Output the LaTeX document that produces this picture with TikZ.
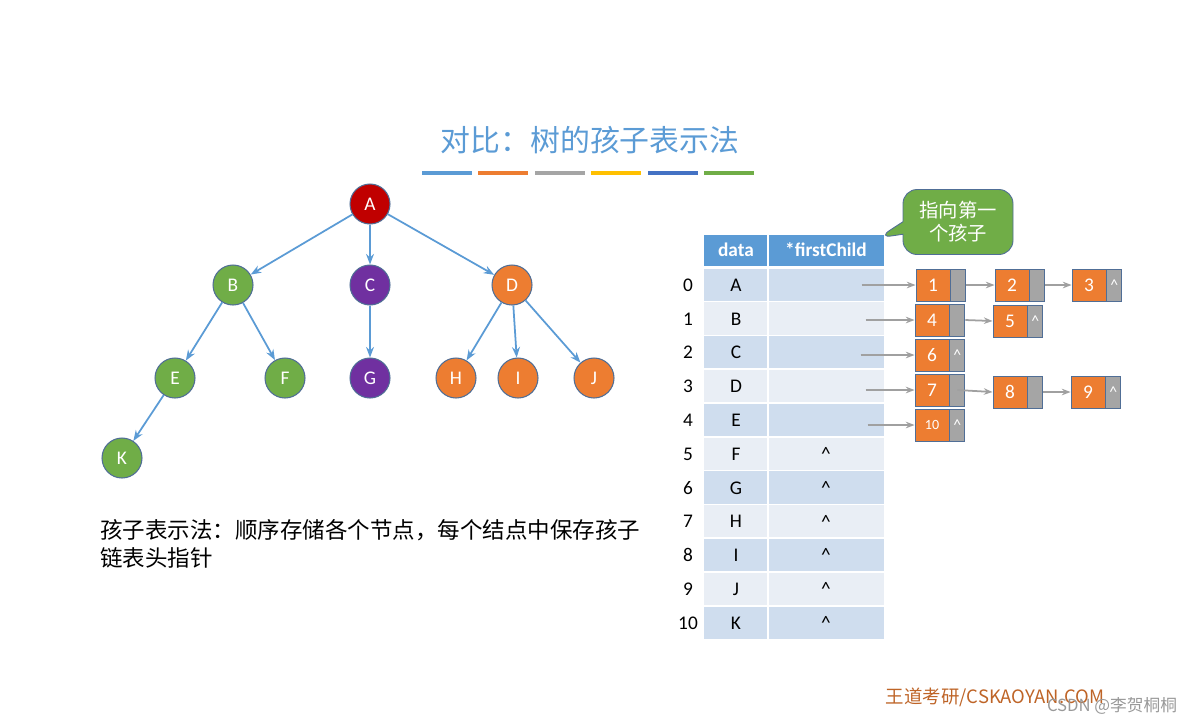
\documentclass[tikz,border=0pt]{standalone}
\usepackage{fontspec}
\setmainfont{Liberation Sans}
\newfontfamily\cjk{Noto Sans CJK SC}
\newfontfamily\cala{Carlito}
\usetikzlibrary{arrows.meta,shapes.callouts}
\definecolor{tblue}{RGB}{91,155,213}
\definecolor{tred}{RGB}{192,0,0}
\definecolor{tgreen}{RGB}{112,173,71}
\definecolor{tpurple}{RGB}{112,48,160}
\definecolor{torange}{RGB}{237,125,49}
\definecolor{tgray}{RGB}{165,165,165}
\definecolor{tyellow}{RGB}{255,192,0}
\definecolor{tdblue}{RGB}{68,114,196}
\definecolor{rowa}{RGB}{207,221,238}
\definecolor{rowb}{RGB}{233,238,245}
\definecolor{lgray}{RGB}{160,160,160}
\definecolor{brd}{RGB}{80,110,150}
\tikzset{
 tn/.style={circle,draw=brd,line width=0.6pt,minimum size=0.8cm,inner sep=0,text=white,font=\cala\fontsize{11}{11}\selectfont},
 ta/.style={-{Stealth[length=6pt]},tblue,line width=1pt},
 la/.style={-{Stealth[length=5pt]},lgray,line width=1pt},
 ob/.style={fill=torange,draw=brd,line width=0.5pt,minimum width=0.68cm,minimum height=0.64cm,inner sep=0,text=white,font=\cala\fontsize{11}{11}\selectfont},
 gb/.style={fill=tgray,draw=brd,line width=0.5pt,minimum width=0.3cm,minimum height=0.64cm,inner sep=0,text=white,font=\cala\fontsize{9}{9}\selectfont},
 cell/.style={minimum height=0.64cm,inner sep=0,font=\cala\fontsize{11}{11}\selectfont},
}
\begin{document}
\begin{tikzpicture}[x=0.02cm,y=-0.02cm]
\useasboundingbox (0,0) rectangle (1196,725);
\node (title) at (590,140) {\cjk\color{tblue}\fontsize{17}{17}\selectfont 对比：树的孩子表示法};
\foreach \c [count=\i from 0] in {tblue,torange,tgray,tyellow,tdblue,tgreen}
  \fill[\c] (422+56.4*\i,171) rectangle ++(50,4);
% tree
\node[tn,fill=tred] (A) at (370,204) {A};
\node[tn,fill=tgreen] (B) at (233,285) {B};
\node[tn,fill=tpurple] (C) at (370,285) {C};
\node[tn,fill=torange] (D) at (512,285) {D};
\node[tn,fill=tgreen] (E) at (175,378) {E};
\node[tn,fill=tgreen] (F) at (285,378) {F};
\node[tn,fill=tpurple] (G) at (370,378) {G};
\node[tn,fill=torange] (H) at (456,378) {H};
\node[tn,fill=torange] (I) at (518,378) {I};
\node[tn,fill=torange] (J) at (594,378) {J};
\node[tn,fill=tgreen] (K) at (122,458) {K};
\foreach \a/\b in {A/B,A/C,A/D,B/E,B/F,C/G,D/H,D/I,D/J,E/K}
  \draw[ta] (\a) -- (\b);
\node[anchor=north west,align=left,font=\cjk\fontsize{12.8}{16}\selectfont,inner sep=0] (txt) at (100,519) {孩子表示法：顺序存储各个节点，每个结点中保存孩子\\链表头指针};
% table
\fill[tblue] (704,235) rectangle (884,266);
\draw[white,line width=1.2pt] (768,235) -- (768,266);
\node[text=white,font=\cala\bfseries\fontsize{11}{11}\selectfont] (h1) at (736,250) {data};
\node[text=white,font=\cala\bfseries\fontsize{11}{11}\selectfont] (h2) at (826,250) {*firstChild};
\foreach \l [count=\i from 0] in {A,B,C,D,E,F,G,H,I,J,K}{
  \pgfmathsetmacro{\yy}{285+33.8*\i}
  \ifodd\i \def\rc{rowb}\else\def\rc{rowa}\fi
  \fill[\rc] (704,\yy-16.5) rectangle (884,\yy+16.5);
  \draw[white,line width=1.2pt] (768,\yy-16.5) -- (768,\yy+16.5);
  \draw[white,line width=1.2pt] (704,\yy+16.9) -- (884,\yy+16.9);
  \node[cell] (d\i) at (736,\yy) {\l};
  \node[cell] (n\i) at (688,\yy) {\i};
  \coordinate (p\i) at (862,\yy);
}
\foreach \i in {5,...,10} \node[cell] at (826,285+33.8*\i) {\^{}};
% callout
\node[rectangle callout,rounded corners=8pt,fill=tgreen,draw=brd,line width=0.5pt,text=white,align=center,minimum width=2.2cm,minimum height=1.3cm,font=\cjk\fontsize{11}{13}\selectfont,callout absolute pointer={(878,238)}] (call) at (958,222) {指向第一\\个孩子};
% lists
\newcommand{\lnode}[5]{% name, x, y, label, ptrlabel
  \node[ob] (#1) at (#2,#3) {#4};
  \node[gb,anchor=west] (#1g) at (#1.east) {#5};}
\lnode{L1}{933}{285}{1}{}
\lnode{L2}{1012}{285}{2}{}
\lnode{L3}{1089}{285}{3}{\^{}}
\lnode{L4}{932}{320}{4}{}
\lnode{L5}{1010}{321}{5}{\^{}}
\lnode{L6}{932}{355}{6}{\^{}}
\lnode{L7}{932}{390}{7}{}
\lnode{L8}{1010}{392}{8}{}
\lnode{L9}{1088}{392}{9}{\^{}}
\node[ob,font=\cala\fontsize{8}{8}\selectfont] (L10) at (932,425) {10};
\node[gb,anchor=west] (L10g) at (L10.east) {\^{}};
\draw[la] (p0 -| L1.west) ++(-54,0) -- (p0 -| L1.west);
\draw[la] (L4.west) ++(-49,0) -- (L4.west);
\draw[la] (L6.west) ++(-54,0) -- (L6.west);
\draw[la] (L7.west) ++(-49,0) -- (L7.west);
\draw[la] (L10.west) ++(-47,0) -- (L10.west);
\draw[la] (L1g.east) -- (L2.west);
\draw[la] (L2g.east) -- (L3.west);
\draw[la] (L4g.east) -- (L5.west);
\draw[la] (L7g.center) -- (L8.west);
\draw[la] (L8g.east) -- (L9.west);
\node[text=torange!80!black,font=\cjk\fontsize{10.5}{10.5}\selectfont] (foot) at (995,697) {王道考研/CSKAOYAN.COM};
\node[text=black!40,font=\cjk\fontsize{9.5}{9.5}\selectfont] (csdn) at (1112,706) {CSDN @李贺桐桐};
\end{tikzpicture}
\end{document}
